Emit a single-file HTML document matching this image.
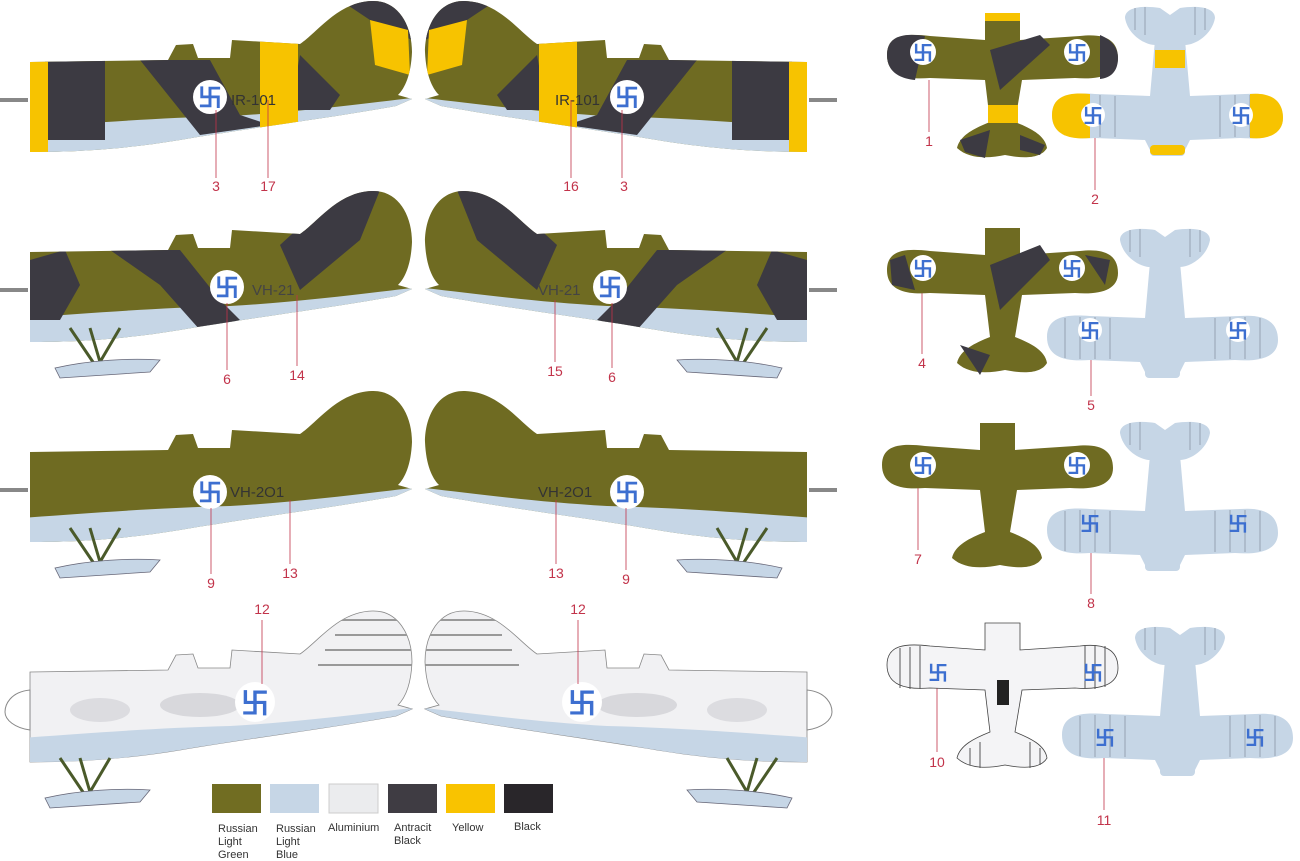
<!DOCTYPE html>
<html><head><meta charset="utf-8"><style>
html,body{margin:0;padding:0;background:#fff;}
svg{display:block;font-family:"Liberation Sans",sans-serif;}
.n{fill:#c2334a;font-size:14px;}
.lg{font-size:11px;fill:#333;}
.sw{font-family:"Noto Sans CJK SC",sans-serif;fill:#3d6fd0;font-weight:bold;}
</style></head><body>
<svg width="1300" height="861" viewBox="0 0 1300 861" xmlns="http://www.w3.org/2000/svg">
<defs>
<path id="body" d="M30,62 L168,60 L176,45 L193,44 L198,58 L230,58 L232,40 L300,44 C318,32 338,2 372,1 C398,0 412,25 412,52 C411,75 405,88 398,95 L412,99 L396,106 C330,118 250,128 180,140 C120,150 70,152 30,152 Z"/>
<clipPath id="cb"><use href="#body"/></clipPath>
<path id="belly" d="M20,128 C80,124 150,118 230,116 C300,112 360,104 412,98 L412,160 L20,160 Z"/>
<g id="ski">
<path d="M70,138 L95,175 M90,138 L100,172 M120,138 L100,172" stroke="#4a5a2a" stroke-width="3" fill="none"/>
<path d="M55,178 C90,170 130,168 160,170 L150,182 L60,188 Z" fill="#c6d6e6" stroke="#667" stroke-width="0.8"/>
</g>
<path id="tv1s" d="M887,55 C887,35 905,33 930,36 L985,40 L985,13 L1020,13 L1020,40 L1080,36 C1105,33 1118,40 1118,58 C1118,75 1100,80 1075,78 L1022,80 L1015,122 C1030,128 1045,135 1047,148 C1040,160 1020,158 1005,155 C990,158 970,160 957,148 C960,135 975,128 990,122 L985,80 L930,78 C905,80 887,75 887,55 Z"/>
<g id="tv2">
<path d="M1052,115 C1052,95 1070,92 1095,94 L1150,96 L1155,40 L1185,40 L1190,96 L1245,94 C1270,92 1283,100 1283,118 C1283,135 1265,140 1240,138 L1190,140 L1185,150 L1150,150 L1145,140 L1095,138 C1070,140 1052,135 1052,115Z" fill="#c6d6e6"/>
<path d="M1125,18 C1125,8 1140,5 1160,8 L1170,15 L1180,8 C1200,5 1215,8 1215,18 C1212,35 1195,45 1185,45 L1155,45 C1145,45 1128,35 1125,18Z" fill="#c6d6e6"/>
<rect x="1150" y="142" width="35" height="14" rx="4" fill="#c6d6e6"/>
<path d="M1070,96 V136 M1085,95 V137 M1100,95 V137 M1115,96 V137 M1220,96 V137 M1235,95 V137 M1250,95 V137 M1265,96 V136 M1135,8 V30 M1145,7 V35 M1195,7 V35 M1205,8 V30" stroke="#8a96a6" stroke-width="0.8"/>
</g>
</defs>

<!-- Row 1 -->
<g id="r1">
<use href="#body" fill="#6f6b22"/>
<g clip-path="url(#cb)">
<use href="#belly" fill="#c6d6e6"/>
<path d="M45,55 L105,55 L105,140 L45,140Z" fill="#3c3a42"/>
<path d="M140,60 L210,60 L240,115 L270,125 L200,135 Z" fill="#3c3a42"/>
<path d="M300,55 L340,95 L330,110 L290,110Z" fill="#3c3a42"/>
<path d="M340,0 L412,0 L412,40 L370,20Z" fill="#3c3a42"/>
<path d="M370,20 L408,30 L410,75 L375,65Z" fill="#f7c300"/>
<rect x="260" y="40" width="38" height="100" fill="#f7c300"/>
<rect x="20" y="55" width="28" height="110" fill="#f7c300"/>
</g>
<line x1="0" y1="100" x2="28" y2="100" stroke="#888" stroke-width="4"/>
</g>
<g transform="translate(837,0) scale(-1,1)"><use href="#r1"/></g>
<text x="231" y="105" font-size="15" fill="#333">IR-101</text>
<text x="555" y="105" font-size="15" fill="#333">IR-101</text>

<!-- Row 2 -->
<g id="r2" transform="translate(0,190)">
<use href="#body" fill="#6f6b22"/>
<g clip-path="url(#cb)">
<use href="#belly" fill="#c6d6e6"/>
<path d="M30,70 L65,60 L80,95 L60,130 L30,130Z" fill="#3c3a42"/>
<path d="M110,60 L180,60 L220,110 L240,130 L200,140 L160,95Z" fill="#3c3a42"/>
<path d="M280,55 L340,0 L380,0 L360,50 L300,100Z" fill="#3c3a42"/>
</g>
<use href="#ski"/>
<line x1="0" y1="100" x2="28" y2="100" stroke="#888" stroke-width="4"/>
</g>
<g transform="translate(837,0) scale(-1,1)"><use href="#r2"/></g>
<text x="252" y="295" font-size="15" fill="#444">VH-21</text>
<text x="538" y="295" font-size="15" fill="#444">VH-21</text>

<!-- Row 3 -->
<g id="r3" transform="translate(0,390)">
<use href="#body" fill="#6f6b22"/>
<g clip-path="url(#cb)"><use href="#belly" fill="#c6d6e6"/></g>
<use href="#ski"/>
<line x1="0" y1="100" x2="28" y2="100" stroke="#888" stroke-width="4"/>
</g>
<g transform="translate(837,0) scale(-1,1)"><use href="#r3"/></g>
<text x="230" y="497" font-size="15" fill="#333">VH-2O1</text>
<text x="538" y="497" font-size="15" fill="#333">VH-2O1</text>

<!-- Row 4 -->
<g id="r4" transform="translate(0,610)">
<use href="#body" fill="#f1f1f3" stroke="#888" stroke-width="0.8"/>
<g clip-path="url(#cb)">
<ellipse cx="200" cy="95" rx="40" ry="12" fill="#d8d8dc"/>
<ellipse cx="100" cy="100" rx="30" ry="12" fill="#dcdce0"/>
<use href="#belly" fill="#c6d6e6"/>
<path d="M340,10 L412,10 M335,25 L412,25 M325,40 L412,40 M318,55 L412,55" stroke="#999" stroke-width="2"/>
</g>
<path d="M30,80 C10,82 5,95 5,102 C5,110 15,118 30,120Z" fill="#fff" stroke="#888"/>
<use href="#ski" transform="translate(-10,10)"/>
</g>
<g transform="translate(837,0) scale(-1,1)"><use href="#r4"/></g>

<!-- side roundels -->
<g class="sw" text-anchor="middle" font-size="24">
<circle cx="210" cy="97" r="17" fill="#fff"/><text x="210" y="106">卐</text>
<circle cx="627" cy="97" r="17" fill="#fff"/><text x="627" y="106">卐</text>
<circle cx="227" cy="287" r="17" fill="#fff"/><text x="227" y="296">卐</text>
<circle cx="610" cy="287" r="17" fill="#fff"/><text x="610" y="296">卐</text>
<circle cx="210" cy="492" r="17" fill="#fff"/><text x="210" y="501">卐</text>
<circle cx="627" cy="492" r="17" fill="#fff"/><text x="627" y="501">卐</text>
<circle cx="255" cy="702" r="20" fill="#fff"/><text x="255" y="713" font-size="28">卐</text>
<circle cx="582" cy="702" r="20" fill="#fff"/><text x="582" y="713" font-size="28">卐</text>
</g>

<!-- numbers -->
<g class="n" text-anchor="middle">
<text x="216" y="191">3</text><text x="268" y="191">17</text><text x="571" y="191">16</text><text x="624" y="191">3</text>
<text x="227" y="384">6</text><text x="297" y="380">14</text><text x="555" y="376">15</text><text x="612" y="382">6</text>
<text x="211" y="588">9</text><text x="290" y="578">13</text><text x="556" y="578">13</text><text x="626" y="584">9</text>
<text x="262" y="614">12</text><text x="578" y="614">12</text>
<text x="929" y="146">1</text><text x="1095" y="204">2</text>
<text x="922" y="368">4</text><text x="1091" y="410">5</text>
<text x="918" y="564">7</text><text x="1091" y="608">8</text>
<text x="937" y="767">10</text><text x="1104" y="825">11</text>
</g>
<g stroke="#c2334a" stroke-width="0.8">
<line x1="216" y1="110" x2="216" y2="178"/><line x1="268" y1="100" x2="268" y2="178"/>
<line x1="571" y1="100" x2="571" y2="178"/><line x1="622" y1="110" x2="622" y2="178"/>
<line x1="227" y1="303" x2="227" y2="370"/><line x1="297" y1="295" x2="297" y2="366"/>
<line x1="555" y1="300" x2="555" y2="362"/><line x1="612" y1="303" x2="612" y2="368"/>
<line x1="211" y1="508" x2="211" y2="574"/><line x1="290" y1="500" x2="290" y2="564"/>
<line x1="556" y1="500" x2="556" y2="564"/><line x1="626" y1="508" x2="626" y2="570"/>
<line x1="262" y1="620" x2="262" y2="684"/><line x1="578" y1="620" x2="578" y2="684"/>
<line x1="929" y1="80" x2="929" y2="132"/><line x1="1095" y1="125" x2="1095" y2="190"/>
<line x1="922" y1="282" x2="922" y2="354"/><line x1="1091" y1="343" x2="1091" y2="396"/>
<line x1="918" y1="478" x2="918" y2="550"/><line x1="1091" y1="540" x2="1091" y2="594"/>
<line x1="937" y1="680" x2="937" y2="752"/><line x1="1104" y1="752" x2="1104" y2="810"/>
</g>

<!-- top view 1 -->
<use href="#tv1s" fill="#6f6b22"/>
<path d="M887,55 C887,35 905,33 925,36 L915,80 C897,78 887,70 887,55Z" fill="#3c3a42"/>
<path d="M1100,35 C1112,40 1118,48 1118,58 C1118,72 1110,78 1100,79Z" fill="#3c3a42"/>
<rect x="985" y="13" width="35" height="8" fill="#f7c300"/><rect x="988" y="105" width="30" height="18" fill="#f7c300"/>
<path d="M990,50 L1040,35 L1050,45 L1000,90Z M960,140 L990,130 L985,158 L965,152Z M1020,135 L1045,145 L1040,155 L1020,150Z" fill="#3c3a42"/>
<use href="#tv2"/>
<rect x="1155" y="50" width="30" height="18" fill="#f7c300"/>
<path d="M1052,115 C1052,95 1070,92 1090,94 L1090,138 C1070,140 1052,135 1052,115Z" fill="#f7c300"/>
<path d="M1250,94 C1270,92 1283,100 1283,118 C1283,135 1265,140 1250,138Z" fill="#f7c300"/>
<rect x="1150" y="145" width="35" height="10" rx="4" fill="#f7c300"/>

<g transform="translate(0,215)"><use href="#tv1s" fill="#6f6b22"/><path d="M890,45 L905,40 L915,75 L892,70Z M990,50 L1040,30 L1050,45 L1000,95Z M960,130 L990,140 L980,160Z M1085,40 L1110,45 L1105,70Z" fill="#3c3a42"/></g>
<g transform="translate(-5,222)"><use href="#tv2"/></g>
<g transform="translate(-5,410)"><use href="#tv1s" fill="#6f6b22"/></g>
<g transform="translate(-5,415)"><use href="#tv2"/></g>
<g transform="translate(0,610)"><use href="#tv1s" fill="#f4f4f6" stroke="#444" stroke-width="0.8"/>
<path d="M900,38 V78 M910,37 V79 M920,36 V79 M1085,36 V78 M1095,35 V79 M1105,36 V77 M970,138 V155 M980,132 V158 M1030,132 V158 M1040,138 V155" stroke="#555" stroke-width="1"/>
<rect x="997" y="70" width="12" height="25" fill="#222"/></g>
<g transform="translate(10,620)"><use href="#tv2"/></g>

<g class="sw" font-size="20" text-anchor="middle">
<circle cx="923" cy="52" r="13" fill="#fff"/><text x="923" y="60">卐</text>
<circle cx="1077" cy="52" r="13" fill="#fff"/><text x="1077" y="60">卐</text>
<circle cx="1093" cy="115" r="12" fill="#fff"/><text x="1093" y="123">卐</text>
<circle cx="1241" cy="115" r="12" fill="#fff"/><text x="1241" y="123">卐</text>
<circle cx="923" cy="268" r="13" fill="#fff"/><text x="923" y="276">卐</text>
<circle cx="1072" cy="268" r="13" fill="#fff"/><text x="1072" y="276">卐</text>
<circle cx="1090" cy="330" r="12" fill="#fff"/><text x="1090" y="338">卐</text>
<circle cx="1238" cy="330" r="12" fill="#fff"/><text x="1238" y="338">卐</text>
<circle cx="923" cy="465" r="13" fill="#fff"/><text x="923" y="473">卐</text>
<circle cx="1077" cy="465" r="13" fill="#fff"/><text x="1077" y="473">卐</text>
<text x="1090" y="531">卐</text><text x="1238" y="531">卐</text>
<text x="938" y="680">卐</text><text x="1093" y="680">卐</text>
<text x="1105" y="745">卐</text><text x="1255" y="745">卐</text>
</g>

<rect x="212" y="784" width="49" height="29" fill="#716d22"/>
<rect x="270" y="784" width="49" height="29" fill="#c6d6e6"/>
<rect x="329" y="784" width="49" height="29" fill="#ebecee" stroke="#ccc"/>
<rect x="388" y="784" width="49" height="29" fill="#3f3c43"/>
<rect x="446" y="784" width="49" height="29" fill="#f9c300"/>
<rect x="504" y="784" width="49" height="29" fill="#29262a"/>
<g class="lg">
<text x="218" y="832">Russian</text><text x="218" y="845">Light</text><text x="218" y="858">Green</text>
<text x="276" y="832">Russian</text><text x="276" y="845">Light</text><text x="276" y="858">Blue</text>
<text x="328" y="831">Aluminium</text>
<text x="394" y="831">Antracit</text><text x="394" y="844">Black</text>
<text x="452" y="831">Yellow</text>
<text x="514" y="830">Black</text>
</g>
</svg>
</body></html>
